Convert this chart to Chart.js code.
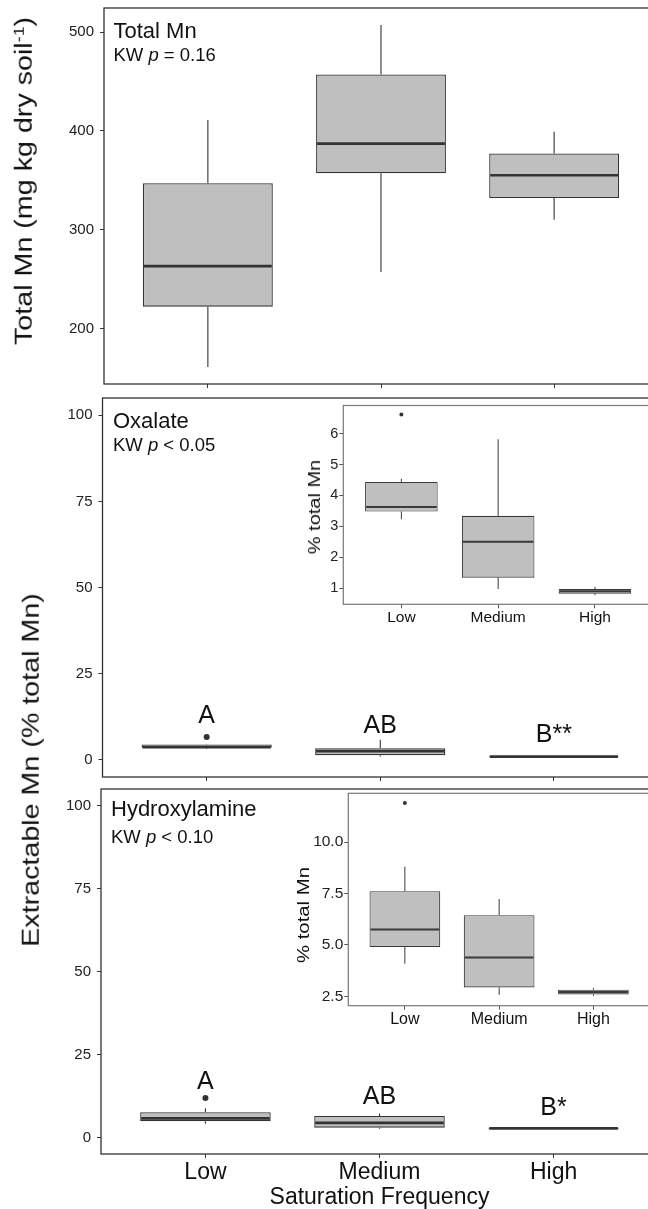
<!DOCTYPE html>
<html>
<head>
<meta charset="utf-8">
<script src="https://cdn.jsdelivr.net/npm/chart.js@4.4.1/dist/chart.umd.min.js"></script>
<style>
  html, body { margin: 0; padding: 0; background: #fff; }
  body { width: 648px; height: 1209px; position: relative; overflow: hidden; font-family: 'Liberation Sans', Arial, sans-serif; }
  canvas { position: absolute; }
  .ytitle { position: absolute; white-space: nowrap; line-height: 1; color: #111; }
  .ytitle sup { font-size: 0.62em; vertical-align: 0.55em; }
</style>
</head>
<body>
<canvas id="totalChart"></canvas>
<canvas id="oxChart"></canvas>
<canvas id="hyChart"></canvas>
<canvas id="oxInset"></canvas>
<canvas id="hyInset"></canvas>
<div class="ytitle" id="yTitleTotal">Total Mn (mg kg dry soil<sup>-1</sup>)</div>
<div class="ytitle" id="yTitleExtract">Extractable Mn (% total Mn)</div>
<div class="ytitle" id="yTitleOxInset">% total Mn</div>
<div class="ytitle" id="yTitleHyInset">% total Mn</div>
<script>
const categories = ['Low', 'Medium', 'High'];

// Total Mn, mg kg-1
const totalMin = [161, 257, 310];
const totalQ1 = [222, 357, 332];
const totalMedian = [263, 387, 355];
const totalQ3 = [347, 457, 377];
const totalMax = [411, 507, 399];
const totalOutliers = [null, null, null];

// Oxalate extractable, % of total Mn
const oxMin = [3.23, 0.97, 0.77];
const oxQ1 = [3.48, 1.34, 0.82];
const oxMedian = [3.63, 2.50, 0.90];
const oxQ3 = [4.44, 3.34, 0.97];
const oxMax = [4.54, 5.82, 1.04];
const oxOutliers = [6.62, null, null];

// Hydroxylamine extractable, % of total Mn
const hyMin = [4.09, 2.58, 2.52];
const hyQ1 = [4.90, 2.94, 2.60];
const hyMedian = [5.75, 4.39, 2.72];
const hyQ3 = [7.61, 6.45, 2.83];
const hyMax = [8.81, 7.23, 2.92];
const hyOutliers = [11.90, null, null];

const totalTicks = [200, 300, 400, 500];
const extractTicks = [0, 25, 50, 75, 100];
const oxInsetTicks = [1, 2, 3, 4, 5, 6];
const hyInsetTicks = [2.5, 5.0, 7.5, 10.0];

const oxLetters = ['A', 'AB', 'B**'];
const hyLetters = ['A', 'AB', 'B*'];

const FONT = "'Liberation Sans', Arial, sans-serif";
Chart.defaults.font.family = FONT;
Chart.defaults.color = '#222';
Chart.defaults.animation = false;

const totalStats = { min: totalMin, q1: totalQ1, median: totalMedian, q3: totalQ3, max: totalMax, outliers: totalOutliers };
const oxStats = { min: oxMin, q1: oxQ1, median: oxMedian, q3: oxQ3, max: oxMax, outliers: oxOutliers };
const hyStats = { min: hyMin, q1: hyQ1, median: hyMedian, q3: hyQ3, max: hyMax, outliers: hyOutliers };

// ggplot style 5% expansion of the data range
function expand(lo, hi) {
    const pad = (hi - lo) * 0.05;
    return [lo - pad, hi + pad];
}
function dataRange(s) {
    const vals = s.min.concat(s.max, s.outliers.filter(v => v !== null));
    return expand(Math.min(...vals), Math.max(...vals));
}

// whiskers, medians, letters, panel text and frame
const boxPlotPlugin = {
    id: 'boxPlot',
    afterDatasetsDraw(chart, args, opts) {
        const { ctx, chartArea, scales: { x, y } } = chart;
        const s = opts.stats;
        const meta = chart.getDatasetMeta(0);
        ctx.save();
        ctx.strokeStyle = opts.lineColor;
        ctx.lineCap = 'butt';
        categories.forEach((c, i) => {
            const cx = x.getPixelForValue(i);
            const half = meta.data[i].width / 2;
            ctx.lineWidth = opts.whiskerWidth;
            ctx.beginPath();
            ctx.moveTo(cx, y.getPixelForValue(s.q3[i]));
            ctx.lineTo(cx, y.getPixelForValue(s.max[i]));
            ctx.moveTo(cx, y.getPixelForValue(s.q1[i]));
            ctx.lineTo(cx, y.getPixelForValue(s.min[i]));
            ctx.stroke();
            ctx.lineWidth = opts.medianWidth;
            ctx.beginPath();
            const my = y.getPixelForValue(s.median[i]);
            ctx.moveTo(cx - half + 1, my);
            ctx.lineTo(cx + half - 1, my);
            ctx.stroke();
        });

        if (opts.letters) {
            ctx.fillStyle = '#111';
            ctx.font = `${opts.letterSize}px ${FONT}`;
            ctx.textAlign = 'center';
            ctx.textBaseline = 'alphabetic';
            opts.letters.forEach((t, i) => {
                ctx.fillText(t, x.getPixelForValue(i), y.getPixelForValue(opts.letterY[i]));
            });
        }

        ctx.strokeStyle = opts.frameColor;
        ctx.lineWidth = opts.frameWidth;
        ctx.strokeRect(chartArea.left, chartArea.top, chartArea.width, chartArea.height);

        if (opts.name) {
            const tx = chartArea.left + opts.text.dx;
            ctx.fillStyle = '#111';
            ctx.textAlign = 'left';
            ctx.font = `22px ${FONT}`;
            ctx.fillText(opts.name, tx, chartArea.top + opts.text.nameY);
            let px = tx;
            const ky = chartArea.top + opts.text.kwY;
            opts.kw.forEach((part, k) => {
                ctx.font = (k === 1 ? 'italic ' : '') + `18.5px ${FONT}`;
                ctx.fillText(part, px, ky);
                px += ctx.measureText(part).width;
            });
        }
        ctx.restore();
    }
};

function boxChart(id, p) {
    const canvas = document.getElementById(id);
    canvas.width = p.frame.w;
    canvas.height = p.frame.h;
    canvas.style.left = p.frame.x + 'px';
    canvas.style.top = p.frame.y + 'px';
    const s = p.stats;
    const yTicks = p.yTicks;

    return new Chart(canvas, {
        type: 'bar',
        data: {
            datasets: [{
                type: 'bar',
                data: s.q1.map((v, i) => ({ x: i, y: [v, s.q3[i]] })),
                backgroundColor: '#bfbfbf',
                borderColor: p.lineColor,
                borderWidth: p.boxWidth,
                borderSkipped: false,
                barPercentage: 0.75,
                categoryPercentage: 1
            }, {
                type: 'scatter',
                data: s.outliers.map((v, i) => ({ x: i, y: v })).filter(pt => pt.y !== null),
                pointRadius: p.dot,
                pointBackgroundColor: '#333',
                pointBorderColor: '#333',
                pointBorderWidth: 0
            }]
        },
        options: {
            responsive: false,
            devicePixelRatio: 1,
            events: [],
            layout: {
                padding: {
                    left: 0,
                    top: p.area.top - p.frame.y,
                    right: p.frame.x + p.frame.w - p.area.right,
                    bottom: 0
                }
            },
            plugins: {
                legend: { display: false },
                tooltip: { enabled: false },
                boxPlot: {
                    stats: s,
                    lineColor: p.lineColor,
                    whiskerWidth: p.whiskerWidth,
                    medianWidth: p.medianWidth,
                    frameColor: p.frameColor,
                    frameWidth: p.frameWidth,
                    letters: p.letters,
                    letterY: p.letterY,
                    letterSize: 25,
                    name: p.name,
                    kw: p.kw,
                    text: p.text
                }
            },
            scales: {
                x: {
                    type: 'linear',
                    min: -0.6,
                    max: 2.6,
                    offset: false,
                    afterBuildTicks: sc => { sc.ticks = categories.map((c, i) => ({ value: i })); },
                    afterFit: sc => {
                        sc.height = p.frame.y + p.frame.h - p.area.bottom;
                        sc.paddingLeft = 0;
                        sc.paddingRight = 0;
                    },
                    border: { display: false },
                    grid: { offset: false, drawOnChartArea: false, drawTicks: true, tickLength: p.tickLen, color: p.tickColor },
                    ticks: {
                        display: p.xLabels,
                        autoSkip: false,
                        maxRotation: 0,
                        padding: p.xPad,
                        color: '#111',
                        font: { size: p.xFont },
                        callback: v => categories[v]
                    },
                    title: p.xTitle ? {
                        display: true,
                        text: p.xTitle,
                        color: '#111',
                        padding: 0,
                        font: { size: 23, lineHeight: 1 }
                    } : { display: false }
                },
                y: {
                    type: 'linear',
                    min: p.yRange[0],
                    max: p.yRange[1],
                    afterBuildTicks: sc => { sc.ticks = yTicks.map(v => ({ value: v })); },
                    afterFit: sc => {
                        sc.width = p.area.left - p.frame.x;
                        sc.paddingTop = 0;
                        sc.paddingBottom = 0;
                    },
                    border: { display: false },
                    grid: { drawOnChartArea: false, drawTicks: true, tickLength: p.tickLen, color: p.tickColor },
                    ticks: {
                        padding: p.yPad,
                        color: '#222',
                        font: { size: p.yFont },
                        callback: v => p.yFormat(v)
                    }
                }
            }
        },
        plugins: [boxPlotPlugin]
    });
}

const mainStyle = {
    lineColor: '#333', boxWidth: 1.3, whiskerWidth: 1.1, medianWidth: 2.6,
    frameColor: '#333', frameWidth: 1.3, dot: 3, tickLen: 4, tickColor: '#333',
    yFont: 15, yPad: 6, xFont: 23, xPad: 1, xLabels: false,
    yFormat: v => String(v)
};
const insetStyle = {
    lineColor: '#3a3a3a', boxWidth: 1.1, whiskerWidth: 1, medianWidth: 2,
    frameColor: '#777', frameWidth: 1.2, dot: 2, tickLen: 4, tickColor: '#555',
    yPad: 1, xPad: 0, xLabels: true, letters: null
};

boxChart('totalChart', Object.assign({}, mainStyle, {
    frame: { x: 0, y: 0, w: 680, h: 392 },
    area: { left: 104, top: 8, right: 658, bottom: 384 },
    stats: totalStats, yRange: dataRange(totalStats), yTicks: totalTicks,
    name: 'Total Mn', kw: ['KW ', 'p', ' = 0.16'],
    text: { dx: 9.5, nameY: 30, kwY: 53 }
}));

boxChart('oxChart', Object.assign({}, mainStyle, {
    frame: { x: 0, y: 392, w: 680, h: 393 },
    area: { left: 102.5, top: 398, right: 658, bottom: 777 },
    stats: oxStats, yRange: expand(0, 100), yTicks: extractTicks,
    letters: oxLetters, letterY: [10.6, 7.9, 5.2],
    name: 'Oxalate', kw: ['KW ', 'p', ' < 0.05'],
    text: { dx: 10.5, nameY: 30, kwY: 52.5 }
}));

boxChart('hyChart', Object.assign({}, mainStyle, {
    frame: { x: 0, y: 785, w: 680, h: 424 },
    area: { left: 101, top: 786, right: 658, bottom: 1154 },
    stats: hyStats, yRange: expand(0, 100), yTicks: extractTicks,
    letters: hyLetters, letterY: [14.6, 10.2, 6.7],
    name: 'Hydroxylamine', kw: ['KW ', 'p', ' < 0.10'],
    text: { dx: 10, nameY: 26.5, kwY: 54 },
    xLabels: true, xTitle: 'Saturation Frequency'
}));

boxChart('oxInset', Object.assign({}, insetStyle, {
    frame: { x: 290, y: 400, w: 390, h: 230 },
    area: { left: 343.3, top: 405.5, right: 653, bottom: 604.3 },
    stats: oxStats, yRange: dataRange(oxStats), yTicks: oxInsetTicks,
    yFont: 14.5, xFont: 15.5, yFormat: v => String(v)
}));

boxChart('hyInset', Object.assign({}, insetStyle, {
    frame: { x: 290, y: 787, w: 390, h: 240 },
    area: { left: 348.3, top: 793.3, right: 650, bottom: 1005.7 },
    stats: hyStats, yRange: dataRange(hyStats), yTicks: hyInsetTicks,
    yFont: 15.5, xFont: 16, yFormat: v => v.toFixed(1)
}));

// rotated axis titles (the reference stretches them along their length)
function placeTitle(id, cx, cy, size, stretch) {
    const el = document.getElementById(id);
    el.style.fontSize = size + 'px';
    el.style.left = cx + 'px';
    el.style.top = cy + 'px';
    el.style.transform = `translate(-50%, -50%) rotate(-90deg) scaleX(${stretch})`;
}
placeTitle('yTitleTotal', 24, 181, 23.5, 1.22);
placeTitle('yTitleExtract', 30.5, 770, 24.5, 1.17);
placeTitle('yTitleOxInset', 314.5, 507, 16, 1.25);
placeTitle('yTitleHyInset', 304, 915, 16, 1.27);
</script>
</body>
</html>
